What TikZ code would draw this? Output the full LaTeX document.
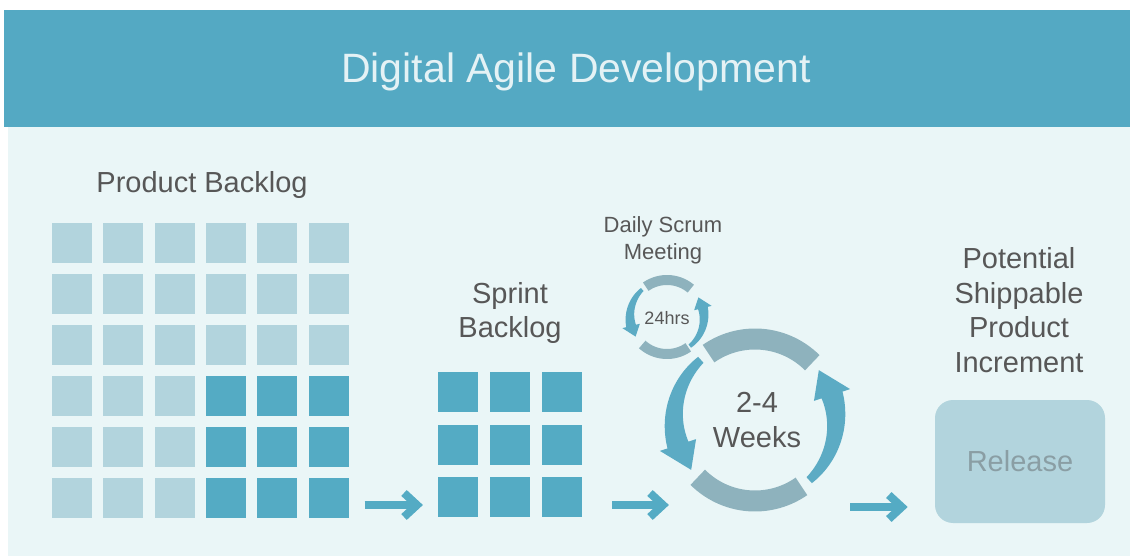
\documentclass[tikz,border=0pt]{standalone}
\usepackage{fontspec}
\setmainfont{Liberation Sans}
\usetikzlibrary{calc}
\definecolor{band}{HTML}{54A9C3}
\definecolor{bgl}{HTML}{EAF6F7}
\definecolor{lsq}{HTML}{B2D4DD}
\definecolor{dsq}{HTML}{54ABC4}
\definecolor{txt}{HTML}{575757}
\definecolor{ttl}{HTML}{E4F2F5}
\definecolor{ringgray}{HTML}{8EB2BD}
\definecolor{ringblue}{HTML}{5CABC4}
\definecolor{reltxt}{HTML}{8A9EA4}
% #1 cx, #2 cy, #3 mid radius, #4 start angle, #5 head base angle, #6 tip angle, #7 start width, #8 end width, #9 head half width
\newcommand{\cyclearrow}[9]{%
  \fill[ringblue]
    plot[domain=#4:#5, samples=30]
      ({#1+(#3+(#7+(#8-#7)*(\x-(#4))/((#5)-(#4)))/2)*cos(\x)},{#2-(#3+(#7+(#8-#7)*(\x-(#4))/((#5)-(#4)))/2)*sin(\x)})
    -- ({#1+(#3+#9)*cos(#5)},{#2-(#3+#9)*sin(#5)})
    -- ({#1+#3*cos(#6)},{#2-#3*sin(#6)})
    -- ({#1+(#3-#9)*cos(#5)},{#2-(#3-#9)*sin(#5)})
    -- plot[domain=#5:#4, samples=30]
      ({#1+(#3-(#7+(#8-#7)*(\x-(#4))/((#5)-(#4)))/2)*cos(\x)},{#2-(#3-(#7+(#8-#7)*(\x-(#4))/((#5)-(#4)))/2)*sin(\x)})
    -- cycle;}
% #1 cx, #2 cy, #3 radius, #4 from, #5 to, #6 width
\newcommand{\cyclearc}[6]{%
  \draw[ringgray, line width=#6]
    plot[domain=#4:#5, samples=30] ({#1+#3*cos(\x)},{#2-#3*sin(\x)});}
\begin{document}
\begin{tikzpicture}[x=1pt,y=-1pt,
  sq/.style={minimum size=40pt, inner sep=0pt, outer sep=0pt},
  lightsq/.style={sq, fill=lsq},
  darksq/.style={sq, fill=dsq},
  label/.style={text=txt, align=center, inner sep=0pt},
  big/.style={font=\fontsize{29}{34.5}\selectfont},
  flowline/.style={draw=dsq, line width=8pt},
  flowhead/.style={draw=dsq, line width=8pt, line join=miter, line cap=butt}]
\useasboundingbox (0,0) rectangle (1130,556);
\fill[white] (0,0) rectangle (1130,556);
\fill[bgl] (8,127) rectangle (1130,556);
\fill[band] (4,10) rectangle (1130,127);
\node[text=ttl, inner sep=0pt, font=\fontsize{41}{48}\selectfont] (title) at (576,72) {Digital Agile Development};

% Product backlog
\node[label, big] (pbl) at (202,185) {Product Backlog};
\foreach \r in {0,...,5}{
  \foreach \c in {0,...,5}{
    \pgfmathtruncatemacro{\isdark}{(\r>2)&&(\c>2)}
    \ifnum\isdark=1
      \node[darksq] (pb-\r-\c) at ({72+51.3*\c},{243+51*\r}) {};
    \else
      \node[lightsq] (pb-\r-\c) at ({72+51.3*\c},{243+51*\r}) {};
    \fi
  }
}

% Sprint backlog
\node[label, big] (sbl) at (510,313) {Sprint\\Backlog};
\foreach \r in {0,1,2}{
  \foreach \c in {0,1,2}{
    \node[darksq] (sb-\r-\c) at ({458+52*\c},{392+52.5*\r}) {};
  }
}

% Daily scrum
\node[label, font=\fontsize{22}{27}\selectfont] (dsm) at (663,240) {Daily Scrum\\Meeting};
\cyclearc{667}{317}{37}{50}{125}{10}
\cyclearc{667}{317}{37}{228}{305}{10}
\cyclearrow{667}{317}{37}{132}{194}{212}{4}{10}{9}
\cyclearrow{667}{317}{37}{-52}{14}{32}{4}{10}{9}
\node[label, font=\fontsize{18}{21}\selectfont] (hrs) at (667,318) {24hrs};

% Sprint cycle
\cyclearc{755}{420}{81}{45}{125}{21}
\cyclearc{755}{420}{81}{225}{305}{21}
\cyclearrow{755}{420}{81}{132}{198}{218}{8}{22}{19}
\cyclearrow{755}{420}{81}{-48}{18}{38}{8}{22}{19}
\node[label, font=\fontsize{29}{35}\selectfont] (wks) at (757,420) {2-4\\Weeks};

% Potential shippable product increment
\node[label, big] (psi) at (1019,310) {Potential\\Shippable\\Product\\Increment};
\node[fill=lsq, rounded corners=18pt, minimum width=170pt, minimum height=123pt, inner sep=0pt,
      text=reltxt, big, text depth=2pt] (rel) at (1020,461.5) {Release};

% Flow arrows
\coordinate (a1s) at ($(pb-5-5.east)+(16,7)$);
\coordinate (a1e) at ($(sb-2-0.west)+(-16,8)$);
\coordinate (a2s) at ($(sb-2-2.east)+(30,8)$);
\coordinate (a2e) at (668,505);
\coordinate (a3s) at (850,507);
\coordinate (a3e) at ($(rel.west)+(-28,45.5)$);
\foreach \s/\e in {a1s/a1e, a2s/a2e, a3s/a3e}{
  \draw[flowline] (\s) -- ($(\e)+(-5,0)$);
  \draw[flowhead] ($(\e)+(-18,-12)$) -- ($(\e)+(-5,0)$) -- ($(\e)+(-18,12)$);
}
\end{tikzpicture}
\end{document}
